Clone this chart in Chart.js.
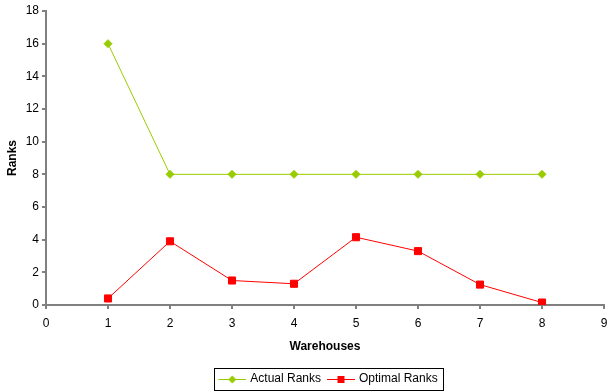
<!DOCTYPE html>
<html>
<head>
<meta charset="utf-8">
<script src="https://cdn.jsdelivr.net/npm/chart.js@4/dist/chart.umd.min.js"></script>
<style>
  html, body { margin: 0; padding: 0; background: #fff; }
  #wrap { width: 610px; height: 391px; }
</style>
</head>
<body>
<div id="wrap"><canvas id="c" width="610" height="391"></canvas></div>
<script>
// Warehouse numbers on the x axis
const warehouses = [1, 2, 3, 4, 5, 6, 7, 8];
// Rank values per warehouse
const actualRanks = [16, 8, 8, 8, 8, 8, 8, 8];
const optimalRanks = [0.4, 3.9, 1.5, 1.3, 4.15, 3.3, 1.25, 0.15];
// Axis ranges and tick steps
const xRange = [0, 9];
const yRange = [0, 18];
const yStep = 2;

const GREEN = '#99CC00';
const RED = '#FF0000';
const AXIS = '#808080';
const FONT = 'Liberation Sans, Arial, sans-serif';

// Legend swatch: short line with the series marker in the middle,
// with blank space on the left that separates the entries
const SW_W = 36, SW_BOX = 32, SW_LEAD = 8;
function swatch(color, style) {
  const cv = document.createElement('canvas');
  cv.width = SW_W; cv.height = 10;
  const ctx = cv.getContext('2d');
  ctx.strokeStyle = color; ctx.lineWidth = 1;
  ctx.beginPath(); ctx.moveTo(SW_LEAD, 5.5); ctx.lineTo(SW_W, 5.5); ctx.stroke();
  ctx.fillStyle = color;
  const cx = Math.round(SW_LEAD + (SW_W - SW_LEAD) / 2);
  if (style === 'rect') {
    ctx.fillRect(cx - 3.5, 2, 7, 7);
  } else {
    ctx.beginPath();
    ctx.moveTo(cx, 1.5); ctx.lineTo(cx + 4, 5.5); ctx.lineTo(cx, 9.5); ctx.lineTo(cx - 4, 5.5);
    ctx.closePath(); ctx.fill();
  }
  return cv;
}

const toPoints = (ys) => warehouses.map((x, i) => ({ x, y: ys[i] }));

// Legend sits a few pixels lower than the default layout puts it
const LEGEND_DROP = 4;
const legendDrop = {
  id: 'legendDrop',
  afterLayout(chart) {
    const lg = chart.legend;
    if (!lg) return;
    lg.top += LEGEND_DROP;
    lg.bottom += LEGEND_DROP;
  }
};

// Frame drawn around the legend entries
const legendFrame = {
  id: 'legendFrame',
  afterDraw(chart) {
    const lg = chart.legend;
    if (!lg || !lg.legendHitBoxes.length) return;
    const boxes = lg.legendHitBoxes;
    const lineStart = Math.min(...boxes.map(b => b.left)) + SW_BOX / 2 - SW_W / 2 + SW_LEAD;
    const left = lineStart - 4;
    const right = Math.max(...boxes.map(b => b.left + b.width)) + 6;
    const cy = boxes[0].top + boxes[0].height / 2;
    const ctx = chart.ctx;
    ctx.save();
    ctx.strokeStyle = '#000';
    ctx.lineWidth = 1;
    ctx.strokeRect(Math.round(left) + 0.5, Math.round(cy - 11) + 0.5, Math.round(right - left), 22);
    ctx.restore();
  }
};

new Chart(document.getElementById('c'), {
  type: 'line',
  data: {
    datasets: [
      {
        label: 'Actual Ranks',
        data: toPoints(actualRanks),
        borderColor: GREEN,
        backgroundColor: GREEN,
        borderWidth: 1,
        pointStyle: 'rectRot',
        pointRadius: 4,
        pointHoverRadius: 4,
        tension: 0
      },
      {
        label: 'Optimal Ranks',
        data: toPoints(optimalRanks),
        borderColor: RED,
        backgroundColor: RED,
        borderWidth: 1,
        pointStyle: 'rect',
        pointRadius: 5,
        pointHoverRadius: 5,
        tension: 0
      }
    ]
  },
  options: {
    responsive: false,
    animation: false,
    devicePixelRatio: 1,
    layout: { padding: { left: 0, right: 0, top: 11, bottom: 0 } },
    plugins: {
      tooltip: { enabled: false },
      legend: {
        position: 'bottom',
        fullSize: false,
        labels: {
          color: '#000',
          font: { family: FONT, size: 12 },
          usePointStyle: true,
          pointStyleWidth: SW_BOX,
          boxHeight: 10,
          padding: 0,
          generateLabels(chart) {
            return chart.data.datasets.map((ds, i) => ({
              text: ds.label,
              datasetIndex: i,
              fontColor: '#000',
              pointStyle: swatch(ds.borderColor, ds.pointStyle),
              strokeStyle: ds.borderColor,
              fillStyle: ds.borderColor,
              lineWidth: 0
            }));
          }
        }
      }
    },
    scales: {
      x: {
        type: 'linear',
        min: xRange[0],
        max: xRange[1],
        ticks: { stepSize: 1, color: '#000', font: { family: FONT, size: 12 }, padding: 7 },
        grid: { drawOnChartArea: false, drawTicks: true, tickLength: 4, color: AXIS, lineWidth: 2 },
        border: { color: AXIS, width: 2 },
        title: { display: true, text: 'Warehouses', color: '#000', font: { family: FONT, size: 12, weight: 'bold' }, padding: { top: 10, bottom: 15 } },
        afterFit(scale) { scale.height = 64; scale.paddingRight = 4; }
      },
      y: {
        type: 'linear',
        min: yRange[0],
        max: yRange[1],
        ticks: { stepSize: yStep, color: '#000', font: { family: FONT, size: 12 }, padding: 3 },
        grid: { drawOnChartArea: false, drawTicks: true, tickLength: 4, color: AXIS, lineWidth: 2 },
        border: { color: AXIS, width: 2 },
        title: { display: true, text: 'Ranks', color: '#000', font: { family: FONT, size: 12, weight: 'bold' }, padding: { top: 5, bottom: 6 } },
        afterFit(scale) { scale.width = 46; scale.paddingTop = 0; scale.paddingBottom = 0; }
      }
    }
  },
  plugins: [legendDrop, legendFrame]
});
</script>
</body>
</html>
